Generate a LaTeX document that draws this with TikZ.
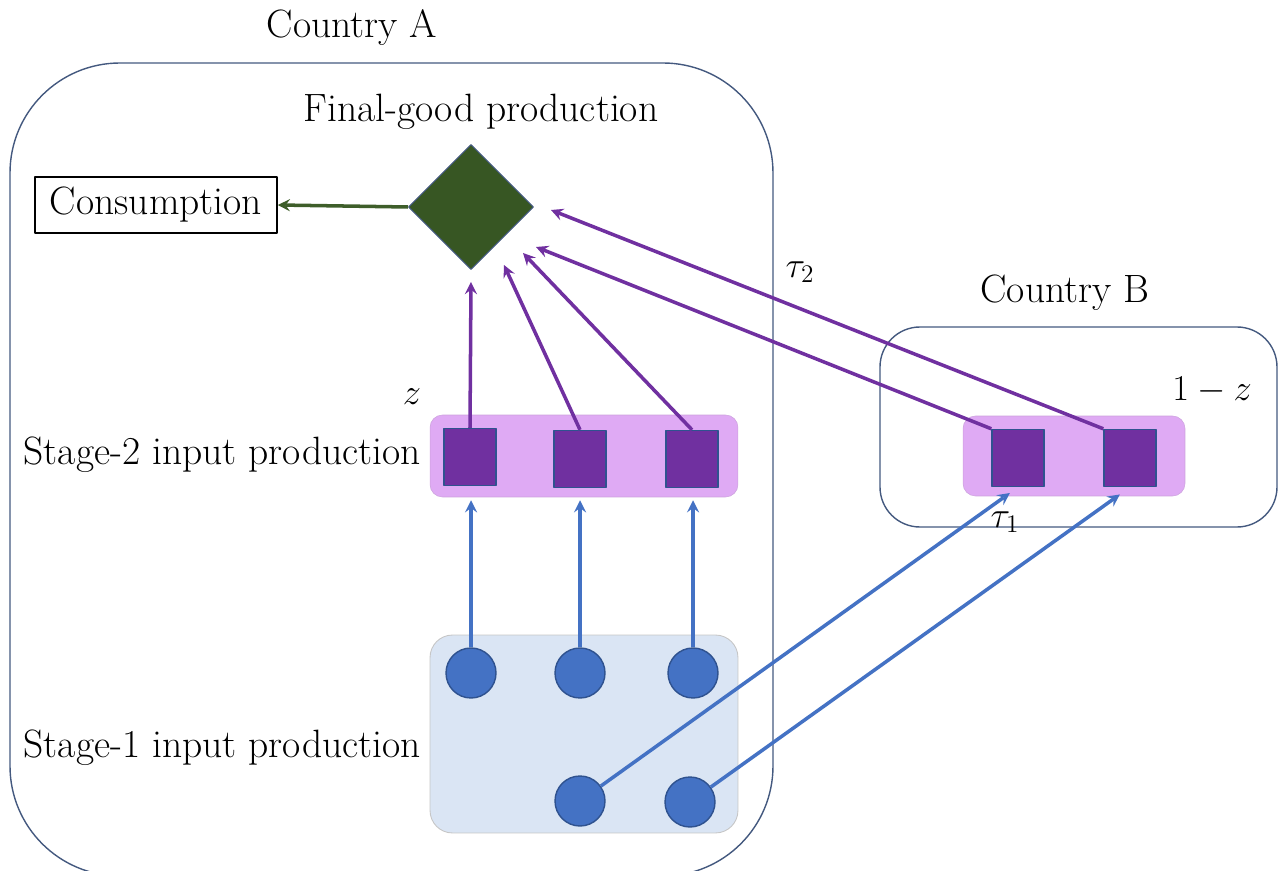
\documentclass[tikz,border=0pt]{standalone}
\usetikzlibrary{shapes.geometric,calc}
\definecolor{cntline}{HTML}{44597F}
\definecolor{fggreen}{HTML}{375623}
\definecolor{arrgreen}{HTML}{3E5E2A}
\definecolor{inpurple}{HTML}{7030A0}
\definecolor{inpink}{HTML}{DFAAF4}
\definecolor{inblue}{HTML}{4472C4}
\definecolor{inlight}{HTML}{DAE5F4}
\definecolor{sqline}{HTML}{2F528F}
\tikzset{
  country/.style={draw=cntline, line width=0.8pt},
  pinkbox/.style={fill=inpink, draw=inpink!80!gray, line width=0.3pt, rounded corners=0.25cm, minimum width=6.16cm, minimum height=1.64cm},
  sqinput/.style={fill=inpurple, draw=sqline, line width=0.8pt, minimum width=1.04cm, minimum height=1.14cm, inner sep=0pt},
  ciinput/.style={circle, fill=inblue, draw=sqline, line width=0.8pt, minimum size=1cm, inner sep=0pt},
  purarrow/.style={->, draw=inpurple, line width=2pt},
  bluarrow/.style={->, draw=inblue, line width=2pt},
}
\begin{document}
\begin{tikzpicture}[x=0.02cm, y=-0.02cm, line join=round, >=stealth, font=\fontsize{22.5}{27}\selectfont]
  \useasboundingbox (0,0) rectangle (1279,871);
  \clip (0,0) rectangle (1279,871);
  %Country A and Country B.
  \draw[country, rounded corners=2.2cm] (10,63) rectangle (773,876);
  \draw[country, rounded corners=0.8cm] (880,327) rectangle (1277,527);
  \node (ctyA) at (352,28) {Country A};
  \node (ctyB) at (1065,293) {Country B};
  %Final good.
  \node (fglab) at (481,112) {Final-good production};
  \node[diamond, aspect=1, fill=fggreen, draw=cntline, line width=0.6pt, minimum size=2.5cm, inner sep=0pt] (fg) at (471,207) {};
  \node[draw, line width=0.9pt, minimum width=4.84cm, minimum height=1.12cm, inner sep=0pt] (cons) at (156,205) {Consumption};
  \draw[->, draw=arrgreen, line width=2pt] (fg.west) -- (cons.east);
  %Stage-2 inputs.
  \node[pinkbox] (s2a) at (584,456) {};
  \node[pinkbox, minimum width=4.44cm, minimum height=1.6cm] (s2b) at (1074,456) {};
  \node[sqinput] (a1) at (470,457) {};
  \node[sqinput] (a2) at (580,459) {};
  \node[sqinput] (a3) at (692,459) {};
  \node[sqinput] (b1) at (1018,458) {};
  \node[sqinput] (b2) at (1130,458) {};
  \node[anchor=east] (s2lab) at (427,455) {Stage-2 input production};
  \node (zA) at (412,397) {$z$};
  \node (zB) at (1212,390) {$1-z$};
  %Stage-1 inputs.
  \node[fill=inlight, draw=gray!45, line width=0.5pt, rounded corners=0.45cm, minimum width=6.16cm, minimum height=3.96cm] (s1) at (584,734) {};
  \node[ciinput] (c1) at (471,673) {};
  \node[ciinput] (c2) at (580,673) {};
  \node[ciinput] (c3) at (693,673) {};
  \node[ciinput] (c4) at (580,801) {};
  \node[ciinput] (c5) at (690,802) {};
  \node[anchor=east] (s1lab) at (427,748) {Stage-1 input production};
  %Flows into final good.
  \coordinate (in1) at ($(fg)+(0,75)$);
  \coordinate (in2) at ($(fg)+(33,58)$);
  \coordinate (in3) at ($(fg)+(52,46)$);
  \coordinate (in4) at ($(fg)+(65,40)$);
  \coordinate (in5) at ($(fg)+(80,3)$);
  \draw[purarrow] (a1.north) -- (in1);
  \draw[purarrow] (a2.north) -- (in2);
  \draw[purarrow] (a3.north) -- (in3);
  \draw[purarrow] (b1.north west) -- (in4);
  \draw[purarrow] (b2.north west) -- (in5);
  \node (tau2) at (800,272) {$\tau_2$};
  %Flows into stage 2.
  \draw[bluarrow] (c1.north) -- ($(c1 |- s2a.south)+(0,3)$);
  \draw[bluarrow] (c2.north) -- ($(c2 |- s2a.south)+(0,3)$);
  \draw[bluarrow] (c3.north) -- ($(c3 |- s2a.south)+(0,3)$);
  \draw[bluarrow, shorten >=0.2cm] (c4) -- (b1.south);
  \draw[bluarrow, shorten >=0.25cm] (c5) -- (b2.south);
  \node (tau1) at (1005,522) {$\tau_1$};
\end{tikzpicture}
\end{document}
